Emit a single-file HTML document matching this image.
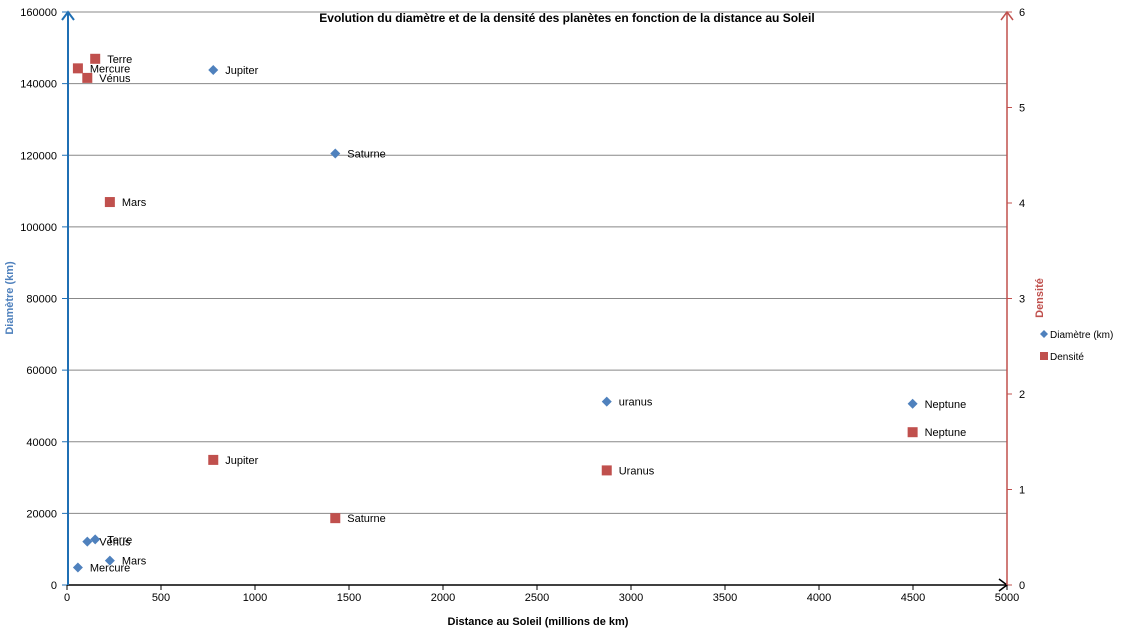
<!DOCTYPE html>
<html><head><meta charset="utf-8"><style>
body{margin:0;background:#fff;font-family:"Liberation Sans",sans-serif}
svg text{font-family:"Liberation Sans",sans-serif}
</style></head><body>
<svg id="c" width="1125" height="639" viewBox="0 0 1125 639"></svg>
<script>
const planets=["Mercure","Vénus","Terre","Mars","Jupiter","Saturne","uranus","Neptune"];
const densLabels=["Mercure","Vénus","Terre","Mars","Jupiter","Saturne","Uranus","Neptune"];
const distance=[58,108,150,228,778,1427,2871,4498];
const diameter=[4879,12104,12756,6792,143800,120500,51200,50600];
const density=[5.41,5.31,5.51,4.01,1.31,0.70,1.20,1.60];
const xTicks=[0,500,1000,1500,2000,2500,3000,3500,4000,4500,5000];
const yTicks=[0,20000,40000,60000,80000,100000,120000,140000,160000];
const y2Ticks=[0,1,2,3,4,5,6];
const X0=67,X1=1007,Y0=585,Y1=12;
const sx=v=>X0+(X1-X0)*v/5000, sy=v=>Y0-(Y0-Y1)*v/160000, sy2=v=>Y0-(Y0-Y1)*v/6;
const svg=document.getElementById('c');const NS="http://www.w3.org/2000/svg";
function el(t,a,p){const e=document.createElementNS(NS,t);for(const k in a)e.setAttribute(k,a[k]);(p||svg).appendChild(e);return e;}
function tx(x,y,s,a){const e=el('text',Object.assign({x:x,y:y,'font-size':11,fill:'#000'},a||{}));e.textContent=s;return e;}
yTicks.forEach(v=>{if(v>0){const g=el('line',{x1:X0,x2:X1,y1:sy(v),y2:sy(v),stroke:'#888'});}
 const t=tx(X0-10,sy(v)+4,v,{'text-anchor':'end'});
 el('line',{x1:X0-5,x2:X0,y1:sy(v),y2:sy(v),stroke:'#1f6fb4'});});
y2Ticks.forEach(v=>{const t=tx(X1+12,sy2(v)+4,v);
 el('line',{x1:X1,x2:X1+5,y1:sy2(v),y2:sy2(v),stroke:'#c0504d'});});
xTicks.forEach(v=>{const t=tx(sx(v),601,v,{'text-anchor':'middle'});
 el('line',{x1:sx(v),x2:sx(v),y1:Y0,y2:Y0+5,stroke:'#000'});});
el('line',{x1:X0,x2:X1,y1:Y0,y2:Y0,stroke:'#000','stroke-width':1.5,});
el('polyline',{points:`${X1-8},${Y0-6} ${X1},${Y0} ${X1-8},${Y0+6}`,fill:'none',stroke:'#000','stroke-width':1.5});
el('line',{x1:X0+1,x2:X0+1,y1:Y0,y2:Y1,stroke:'#1f6fb4','stroke-width':2,});
el('polyline',{points:`${X0-5},${Y1+8} ${X0+1},${Y1} ${X0+7},${Y1+8}`,fill:'none',stroke:'#1f6fb4','stroke-width':2});
el('line',{x1:X1,x2:X1,y1:Y0,y2:Y1,stroke:'#c0504d','stroke-width':1.5,});
el('polyline',{points:`${X1-6},${Y1+8} ${X1},${Y1} ${X1+6},${Y1+8}`,fill:'none',stroke:'#c0504d','stroke-width':1.5});
planets.forEach((p,i)=>{const x=sx(distance[i]),y=sy(diameter[i]);
 const d=el('polygon',{points:`${x},${y-5} ${x+5},${y} ${x},${y+5} ${x-5},${y}`,fill:'#4f81bd'});
 
 const t=tx(x+12,y+4,p);});
densLabels.forEach((p,i)=>{const x=sx(distance[i]),y=sy2(density[i]);
 const r=el('rect',{x:x-5,y:y-5,width:10,height:10,fill:'#c0504d'});
 
 const t=tx(x+12,y+4,p);});
let t=tx(567,22,"Evolution du diamètre et de la densité des planètes en fonction de la distance au Soleil",{'text-anchor':'middle','font-weight':'bold','font-size':12});

t=tx(538,625,"Distance au Soleil (millions de km)",{'text-anchor':'middle','font-weight':'bold'});

t=tx(0,0,"Diamètre (km)",{'text-anchor':'middle','font-weight':'bold',fill:'#4f81bd',transform:'translate(13,298) rotate(-90)'});

t=tx(0,0,"Densité",{'text-anchor':'middle','font-weight':'bold',fill:'#c0504d',transform:'translate(1043,298) rotate(-90)'});

el('polygon',{points:'1044,330 1048,334 1044,338 1040,334',fill:'#4f81bd',});
t=tx(1050,338,"Diamètre (km)",{'font-size':10});
el('rect',{x:1040,y:352,width:8,height:8,fill:'#c0504d',});
t=tx(1050,360,"Densité",{'font-size':10});
</script></body></html>
